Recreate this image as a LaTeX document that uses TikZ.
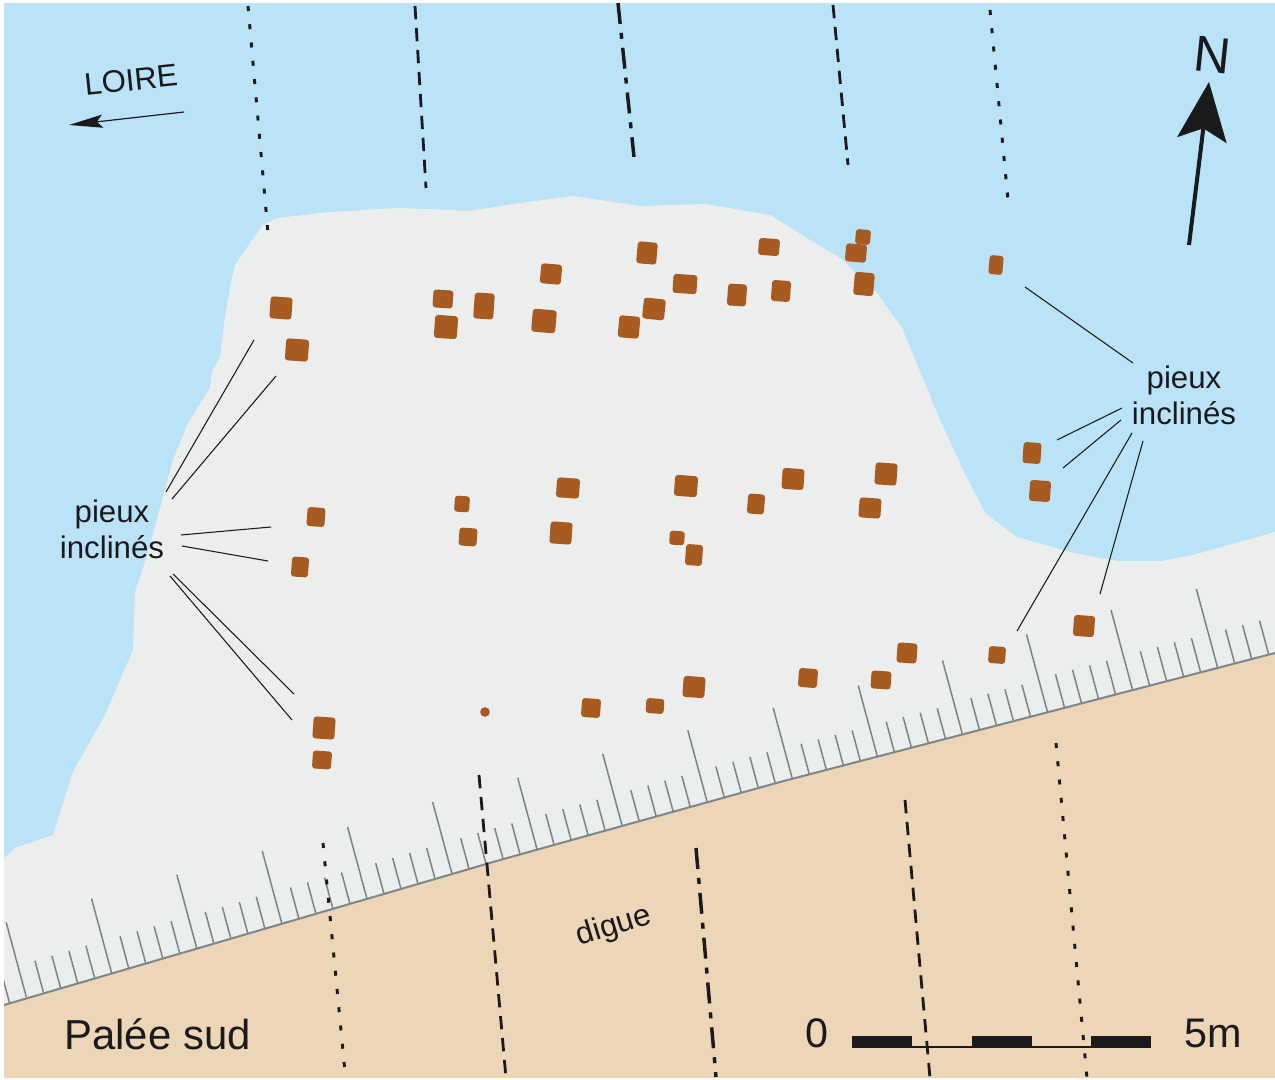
\documentclass[tikz,border=0pt]{standalone}
\usepackage{fontspec}
\setmainfont{Liberation Sans}
\usetikzlibrary{arrows.meta}

\definecolor{eau}{RGB}{186,227,248}
\definecolor{sol}{RGB}{236,238,238}
\definecolor{digue}{RGB}{236,214,183}
\definecolor{bois}{RGB}{168,91,33}
\definecolor{encre}{RGB}{26,26,28}
\definecolor{regle}{RGB}{128,133,136}

\tikzset{
  every picture/.style={line width=0.75pt},
  declare function={digueY(\x)=(\x<500) ? 1005-0.2923*(\x-4) : ((\x<780) ? 860-0.2786*(\x-500) : 782-0.2606*(\x-780));},
  pile/.style 2 args={draw=none,fill=bois,inner sep=0pt,rounded corners=2.25pt,minimum width=#1*0.75pt,minimum height=#2*0.75pt},
  grad/.style={draw=regle,line width=1.15pt},
  leader/.style={draw=encre,line width=0.8pt},
  axedot/.style={draw=encre,line width=2.2pt,dash pattern=on 3.75pt off 10pt},
  axedash/.style={draw=encre,line width=2.1pt,dash pattern=on 10pt off 6.5pt},
  axemix/.style={draw=encre,line width=2.6pt,dash pattern=on 15.75pt off 6.75pt on 4.5pt off 6.75pt},
  txt/.style={text=encre,inner sep=0pt,font=\fontsize{23.4}{26.5}\selectfont},
  big/.style={text=encre,inner sep=0pt,font=\fontsize{31}{33}\selectfont}
}

\begin{document}
\begin{tikzpicture}[x=0.75pt,y=0.75pt,yscale=-1,xscale=1]
\useasboundingbox (0,0) rectangle (1275,1080);

%Water, land, dyke
\fill [eau] (4,3) rectangle (1275,1078);
\fill [sol] (4,858) -- (15,848) -- (53,835) -- (73,772) -- (105,715) -- (133,650) -- (135,592) -- (148,553) -- (163,497) -- (173,460) -- (188,423) -- (210,388) -- (212,372) -- (220,357) -- (225,317) -- (230,287) -- (235,265) -- (250,243) -- (263,225) -- (277,218) -- (330,212) -- (400,208) -- (470,211) -- (520,203) -- (573,196) -- (640,206) -- (706,204) -- (770,215) -- (810,240) -- (840,258) -- (877,293) -- (902,328) -- (940,420) -- (963,470) -- (985,513) -- (1017,537) -- (1073,553) -- (1117,561) -- (1162,561) -- (1193,555) -- (1275,532) -- (1275,660) -- (4,1010) -- cycle;
\fill [digue] (4,1005) -- (500,860) -- (780,782) -- (1275,653) -- (1275,1078) -- (4,1078) -- cycle;

%Graduated edge of the dyke
\begin{scope}
\clip (4,3) rectangle (1275,1078);
\foreach \k/\h in {-1/76,0/76,1/75,2/74,3/73,4/72,5/72,6/72,7/72,8/72,9/71,10/71,11/74,12/78,13/80,14/79} {
  \pgfmathsetmacro{\tx}{26.7+85.07*\k}
  \pgfmathsetmacro{\ty}{digueY(\tx)}
  \pgfmathsetmacro{\tw}{\h*0.27}
  \ifnum\k>-1 \draw [grad] (\tx,\ty) -- ++(-\tw,-\h); \fi
  \foreach \m in {1,2,3,4} {
    \pgfmathsetmacro{\ux}{\tx+17.014*\m}
    \pgfmathsetmacro{\uy}{digueY(\ux)}
    \draw [grad] (\ux,\uy) -- ++(-0.43*\tw,-0.43*\h);
  }
}
\end{scope}
\draw [draw=regle,line width=1.5pt] (4,1005) -- (500,860) -- (780,782) -- (1275,653);

%Piles, north row
\node [pile={22}{22},rotate=-4] (n01) at (281,308) {};
\node [pile={23}{22},rotate=-4] (n02) at (297,350) {};
\node [pile={20}{18},rotate=-4] (n03) at (443,299) {};
\node [pile={23}{23},rotate=-4] (n04) at (446,327) {};
\node [pile={20}{26},rotate=-4] (n05) at (484,306) {};
\node [pile={24}{23},rotate=-5] (n06) at (544,321) {};
\node [pile={21}{20},rotate=-5] (n07) at (551,274) {};
\node [pile={21}{22},rotate=-5] (n08) at (629,327) {};
\node [pile={20}{22},rotate=-5] (n09) at (647,253) {};
\node [pile={22}{21},rotate=-6] (n10) at (654,309) {};
\node [pile={24}{19},rotate=-4] (n11) at (685,284) {};
\node [pile={19}{22},rotate=-4] (n12) at (737,295) {};
\node [pile={21}{17},rotate=-4] (n13) at (769,247) {};
\node [pile={19}{21},rotate=-4] (n14) at (781,291) {};
\node [pile={21}{18},rotate=-5] (n15) at (856,253) {};
\node [pile={15}{15},rotate=-5] (n16) at (863,237) {};
\node [pile={20}{23},rotate=-5] (n17) at (864,284) {};
\node [pile={14}{19},rotate=-5] (n18) at (996,265) {};

%Piles, middle row
\node [pile={18}{19},rotate=-4] (m01) at (316,517) {};
\node [pile={17}{20},rotate=-4] (m02) at (300,567) {};
\node [pile={15}{16},rotate=-4] (m03) at (462,504) {};
\node [pile={18}{18},rotate=-4] (m04) at (468,537) {};
\node [pile={23}{20},rotate=-4] (m05) at (568,488) {};
\node [pile={22}{22},rotate=-4] (m06) at (561,533) {};
\node [pile={23}{21},rotate=-4] (m07) at (686,486) {};
\node [pile={15}{14},rotate=-4] (m08) at (677,538) {};
\node [pile={17}{21},rotate=-4] (m09) at (694,555) {};
\node [pile={17}{20},rotate=-4] (m10) at (756,504) {};
\node [pile={22}{21},rotate=-4] (m11) at (793,479) {};
\node [pile={22}{20},rotate=-4] (m12) at (870,508) {};
\node [pile={22}{22},rotate=-4] (m13) at (886,474) {};
\node [pile={18}{21},rotate=-4] (m14) at (1032,453) {};
\node [pile={21}{21},rotate=-4] (m15) at (1040,491) {};

%Piles, south row
\node [pile={22}{22},rotate=-4] (s01) at (324,728) {};
\node [pile={19}{18},rotate=-4] (s02) at (322,760) {};
\node [circle,fill=bois,inner sep=0pt,minimum size=7.2pt] (s03) at (485,712) {};
\node [pile={19}{19},rotate=-4] (s04) at (591,708) {};
\node [pile={18}{15},rotate=-4] (s05) at (655,706) {};
\node [pile={22}{21},rotate=-4] (s06) at (694,687) {};
\node [pile={19}{19},rotate=-4] (s07) at (808,678) {};
\node [pile={20}{18},rotate=-4] (s08) at (881,680) {};
\node [pile={20}{20},rotate=-4] (s09) at (907,653) {};
\node [pile={17}{17},rotate=-4] (s10) at (997,655) {};
\node [pile={21}{21},rotate=-4] (s11) at (1084,626) {};

% Text Node
\node [txt,align=center] (lblW) at (112,529.5) {pieux\\inclinés};
% Text Node
\node [txt,align=center] (lblE) at (1184,395.5) {pieux\\inclinés};
% Text Node
\node [txt,rotate=6] (loire) at (131,80) {LOIRE};
% Text Node
\node [txt,rotate=17] (dig) at (614,927) {digue};
% Text Node
\node [big,anchor=base west,font=\fontsize{31.4}{33}\selectfont] (palee) at (64,1049) {Palée sud};
% Text Node
\node [big,anchor=base west] (zero) at (804.5,1047) {0};
% Text Node
\node [big,anchor=base west] (cinq) at (1184,1047) {5m};
% Text Node
\node [text=encre,inner sep=0pt,rotate=-6,font=\fontsize{38}{40}\selectfont] (nord) at (1213,55) {N};

%Straight Lines, west label
\coordinate (w1a) at (166,492); \coordinate (w1b) at (254,340);
\coordinate (w2a) at (172,499); \coordinate (w2b) at (276,376);
\coordinate (w3a) at (181,535); \coordinate (w3b) at (271,527);
\coordinate (w4a) at (182,546); \coordinate (w4b) at (268,561);
\coordinate (w5a) at (173,574); \coordinate (w5b) at (294,694);
\coordinate (w6a) at (170,576); \coordinate (w6b) at (292,720);
\draw [leader] (w1a) -- (w1b);
\draw [leader] (w2a) -- (w2b);
\draw [leader] (w3a) -- (w3b);
\draw [leader] (w4a) -- (w4b);
\draw [leader] (w5a) -- (w5b);
\draw [leader] (w6a) -- (w6b);

%Straight Lines, east label
\coordinate (e1a) at (1133,363); \coordinate (e1b) at (1025,287);
\coordinate (e2a) at (1122,408); \coordinate (e2b) at (1057,440);
\coordinate (e3a) at (1121,420); \coordinate (e3b) at (1063,468);
\coordinate (e4a) at (1132,433); \coordinate (e4b) at (1017,631);
\coordinate (e5a) at (1143,441); \coordinate (e5b) at (1100,594);
\draw [leader] (e1a) -- (e1b);
\draw [leader] (e2a) -- (e2b);
\draw [leader] (e3a) -- (e3b);
\draw [leader] (e4a) -- (e4b);
\draw [leader] (e5a) -- (e5b);

%Section lines
\draw [axedot] (248,6) -- (268,233);
\draw [axedash] (415,6) -- (426,188);
\draw [axemix] (618,3) -- (634,157);
\draw [axedash] (833,5) -- (848,165);
\draw [axedot] (990,10) -- (1008,200);
\draw [axedot] (323,843) -- (345,1072);
\draw [axedash] (479,775) -- (506,1078);
\draw [axemix] (696,848) -- (716,1077);
\draw [axedash] (905,800) -- (930,1078);
\draw [axedot] (1056,743) -- (1087,1078);

%Scale bar
\fill [encre] (852.3,1036.3) rectangle (912,1048.3);
\fill [encre] (972,1036.3) rectangle (1031.7,1048.3);
\fill [encre] (1091.3,1036.3) rectangle (1151,1048.3);
\draw [draw=encre,line width=1.5pt] (912,1046.5) -- (1091.3,1046.5);

%Flow arrow and north arrow
\coordinate (flowA) at (184,112); \coordinate (flowB) at (69,125);
\draw [draw=encre,line width=0.9pt,-{Stealth[length=25.5pt,width=10pt,inset=4.5pt,line width=0pt]}] (flowA) -- (flowB);
\coordinate (northA) at (1189,245); \coordinate (northB) at (1209,82);
\draw [draw=encre,line width=3pt,-{Stealth[length=44pt,width=37.5pt,inset=9pt,line width=0pt]}] (northA) -- (northB);

\end{tikzpicture}
\end{document}
